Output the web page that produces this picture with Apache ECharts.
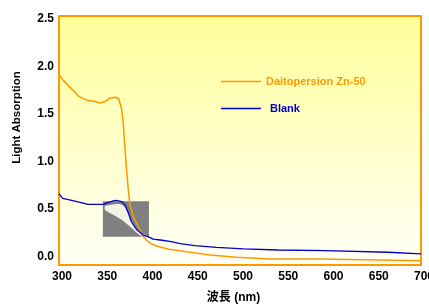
<!DOCTYPE html>
<html>
<head>
<meta charset="utf-8">
<script src="https://cdn.jsdelivr.net/npm/echarts@6/dist/echarts.min.js"></script>
<style>
  html, body { margin: 0; padding: 0; background: #fff; }
  #chart { width: 429px; height: 306px; }
</style>
</head>
<body>
<div id="chart"></div>
<script>
// Daitopersion Zn-50 absorption curve
const znWavelength = [300, 305, 310, 316, 321, 327, 332, 340, 345, 351, 356, 362, 366, 369, 371, 373, 375, 377, 378.5, 382, 388, 393, 397, 401, 407, 421, 445, 467, 496, 533, 588, 589, 700];
const znAbs = [1.91, 1.85, 1.80, 1.745, 1.69, 1.66, 1.64, 1.63, 1.615, 1.63, 1.665, 1.675, 1.66, 1.56, 1.40, 1.12, 0.87, 0.66, 0.54, 0.42, 0.31, 0.21, 0.17, 0.138, 0.113, 0.075, 0.044, 0.016, -0.008, -0.026, -0.026, -0.044, -0.044];

// Blank curve
const blankWavelength = [300, 304, 314, 321, 332, 349, 353, 362, 366, 370, 373, 377, 380, 386, 393, 399, 404, 412, 424, 434, 450, 474, 504, 542, 594, 595, 664, 665, 700];
const blankAbs = [0.66, 0.61, 0.59, 0.575, 0.547, 0.547, 0.564, 0.59, 0.585, 0.575, 0.54, 0.45, 0.365, 0.28, 0.225, 0.205, 0.183, 0.173, 0.155, 0.134, 0.113, 0.096, 0.079, 0.068, 0.061, 0.044, 0.044, 0.026, 0.026];

// grey overlay box and the pale wedge inside it
const boxWavelength = [348.5, 399.4];
const boxAbs = [0.582, 0.208];
const wedgeWavelength = [351, 362, 368, 373, 377, 381, 387, 393, 397, 397, 390, 380, 370, 360, 351];
const wedgeAbs = [0.53, 0.55, 0.55, 0.52, 0.44, 0.36, 0.28, 0.235, 0.22, 0.19, 0.22, 0.30, 0.38, 0.44, 0.49];

const xTicks = [300, 350, 400, 450, 500, 550, 600, 650, 700];
const yTicks = [0, 0.5, 1.0, 1.5, 2.0, 2.5];

const names = ['Daitopersion Zn-50', 'Blank'];
const colors = ['#ff9900', '#0000cc'];

const font = "'Liberation Sans', Arial, 'Noto Sans CJK JP', sans-serif";

function pairs(xs, ys) {
  return xs.map((x, i) => [x, ys[i]]);
}

const chart = echarts.init(document.getElementById('chart'));

const option = {
  backgroundColor: '#ffffff',
  animation: false,
  textStyle: { fontFamily: font },
  grid: {
    left: 59,
    right: 8,
    top: 16,
    bottom: 41,
    outerBoundsMode: 'none',
    containLabel: false,
    show: true,
    borderColor: '#ff9900',
    borderWidth: 2,
    backgroundColor: new echarts.graphic.LinearGradient(0, 0, 0, 1, [
      { offset: 0, color: '#ffff99' },
      { offset: 0.6, color: '#ffffd2' },
      { offset: 1, color: '#fffff8' }
    ])
  },
  legend: {
    orient: 'vertical',
    left: 216,
    top: 71,
    itemGap: 16,
    itemWidth: 40,
    itemHeight: 1.5,
    icon: 'rect',
    textStyle: { fontFamily: font, fontWeight: 'bold', fontSize: 11 },
    data: [
      { name: names[0], textStyle: { color: colors[0] } },
      { name: names[1], textStyle: { color: colors[1], padding: [0, 0, 0, 4] } }
    ]
  },
  xAxis: {
    type: 'value',
    min: 300,
    max: 700,
    name: '波長 (nm)',
    nameLocation: 'middle',
    nameGap: 27,
    nameTextStyle: { color: '#000', fontWeight: 'bold', fontSize: 12, fontFamily: font, padding: [0, 13, 0, 0] },
    axisLine: { show: false },
    axisTick: { show: false },
    splitLine: { show: false },
    axisLabel: {
      customValues: xTicks,
      color: '#000',
      fontWeight: 'bold',
      fontSize: 12,
      margin: 6,
      padding: [0, 0, 0, 6],
      showMaxLabel: true
    }
  },
  yAxis: {
    type: 'value',
    min: -0.09,
    max: 2.53,
    name: 'Light Absorption',
    nameLocation: 'middle',
    nameGap: 36,
    nameTextStyle: { color: '#000', fontWeight: 'bold', fontSize: 11.5, fontFamily: font, padding: [0, 0, 0, 46] },
    axisLine: { show: false },
    axisTick: { show: false },
    splitLine: { show: false },
    axisLabel: {
      customValues: yTicks,
      color: '#000',
      fontWeight: 'bold',
      fontSize: 12,
      margin: 5,
      formatter: v => v.toFixed(1)
    }
  },
  series: [
    {
      name: 'overlay',
      type: 'custom',
      z: 1,
      silent: true,
      data: [[boxWavelength[0], boxAbs[0]]],
      renderItem: function (params, api) {
        const p0 = api.coord([boxWavelength[0], boxAbs[0]]);
        const p1 = api.coord([boxWavelength[1], boxAbs[1]]);
        const pts = wedgeWavelength.map((w, i) => api.coord([w, wedgeAbs[i]]));
        return {
          type: 'group',
          children: [
            {
              type: 'rect',
              shape: { x: p0[0], y: p0[1], width: p1[0] - p0[0], height: p1[1] - p0[1] },
              style: { fill: '#808080' }
            },
            {
              type: 'polygon',
              shape: { points: pts, smooth: 0.3 },
              style: { fill: '#fffff0', opacity: 0.9 }
            }
          ]
        };
      }
    },
    {
      name: names[0],
      type: 'line',
      z: 3,
      symbol: 'none',
      color: colors[0],
      lineStyle: { color: colors[0], width: 1.5 },
      data: pairs(znWavelength, znAbs)
    },
    {
      name: names[1],
      type: 'line',
      z: 3,
      symbol: 'none',
      color: colors[1],
      lineStyle: { color: colors[1], width: 1.3 },
      data: pairs(blankWavelength, blankAbs)
    }
  ]
};

chart.setOption(option);
</script>
</body>
</html>
